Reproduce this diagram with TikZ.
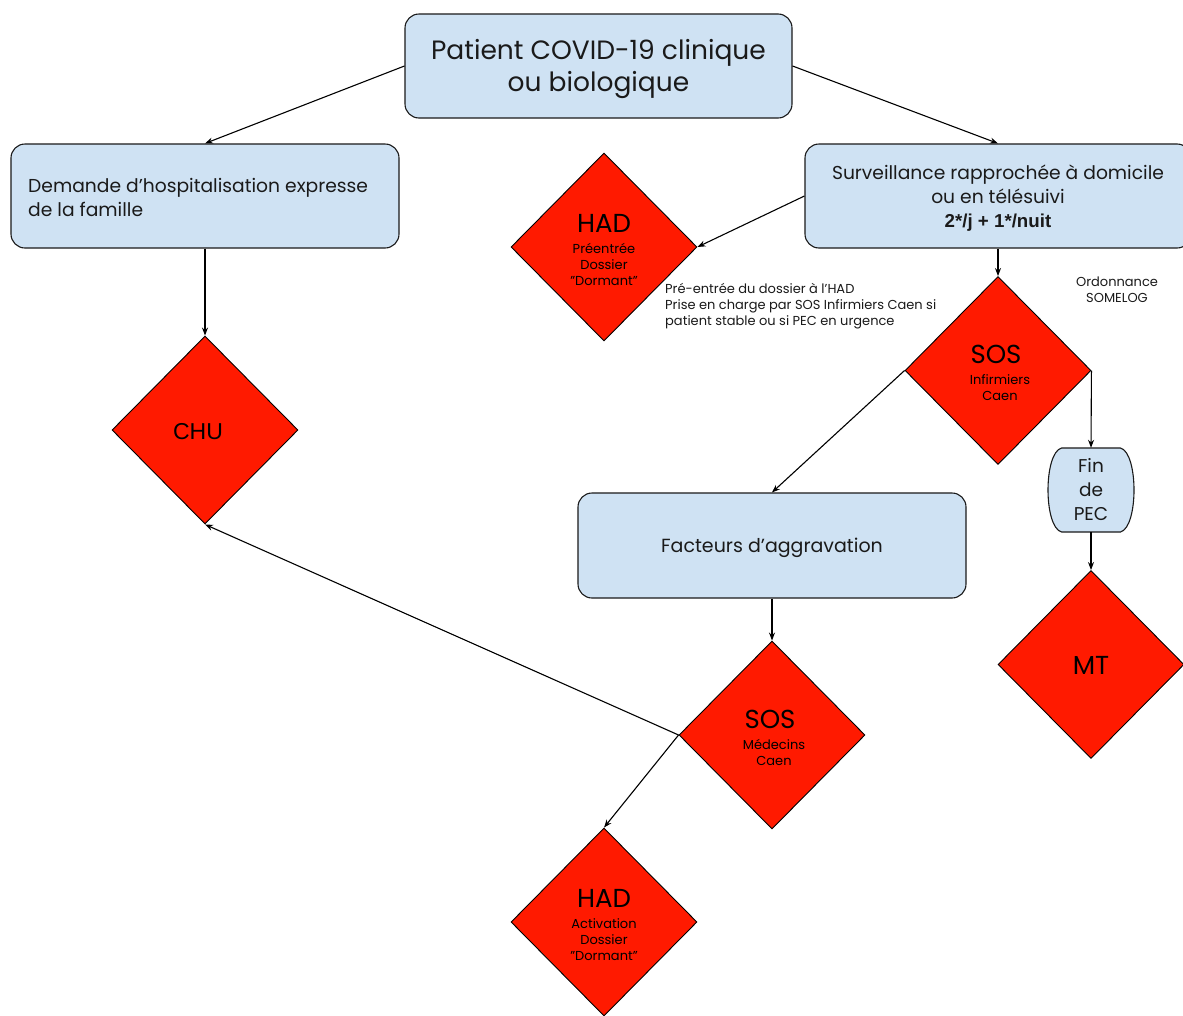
\documentclass[tikz,border=0pt]{standalone}
\usepackage{fontspec}
\setmainfont{Poppins}
\newfontfamily\arialf{Liberation Sans}
\usetikzlibrary{shapes.geometric,arrows.meta}
\definecolor{boxblue}{HTML}{CFE2F3}
\definecolor{dred}{HTML}{FF1A00}
\definecolor{ink}{HTML}{1A1A1A}
\tikzset{
  box/.style={draw=ink,line width=1.1pt,fill=boxblue,rounded corners=14pt,inner sep=0pt,text=ink},
  dia/.style={diamond,draw=black,line width=0.9pt,fill=dred,inner sep=0pt,aspect=1,minimum width=186pt,minimum height=188pt,align=center,text=black,font=\fontsize{13}{16}\selectfont},
  conn/.style={line width=1.1pt,-{Stealth[length=8pt,width=6pt]}},
  note/.style={align=left,inner sep=0pt,text=ink,font=\fontsize{13}{16}\selectfont}
}
\begin{document}
\begin{tikzpicture}[x=1pt,y=-1pt]
\useasboundingbox (0,0) rectangle (1183,1015);
\fill[white] (0,0) rectangle (1183,1015);
\clip (0,0) rectangle (1183,1015);
% boxes
\node[box,minimum width=387pt,minimum height=104pt] (pat) at (598.5,66) {};
\node[align=center,inner sep=0pt,text=ink,font=\fontsize{26.5}{32}\selectfont] (patt) at (598.5,69) {Patient COVID-19 clinique\\ou biologique};
\node[box,minimum width=388pt,minimum height=104pt] (dem) at (205,196) {};
\node[note,anchor=north west,font=\fontsize{18.7}{24}\selectfont] (demt) at (28,178) {Demande d’hospitalisation expresse\\de la famille};
\node[box,minimum width=386pt,minimum height=104pt] (surv) at (998,196) {};
\node[align=center,inner sep=0pt,text=ink,font=\fontsize{18.7}{24}\selectfont] (survt) at (998,198) {Surveillance rapprochée à domicile\\ou en télésuivi\\{\arialf\bfseries 2*/j + 1*/nuit}};
\node[box,minimum width=388pt,minimum height=105pt,font=\fontsize{19}{24}\selectfont] (fac) at (772,545.5) {};
\node[inner sep=0pt,text=ink,font=\fontsize{19}{24}\selectfont] (fact) at (772,548) {Facteurs d’aggravation};
% Fin de PEC
\draw[draw=ink,line width=1.1pt,fill=boxblue] (1061.5,448) -- (1120.5,448) .. controls (1138.5,453) and (1138.5,527) .. (1120.5,532) -- (1061.5,532) .. controls (1043.5,527) and (1043.5,453) .. (1061.5,448) -- cycle;
\node[inner sep=0pt,minimum width=85pt,minimum height=84pt,align=center,text=ink,font=\fontsize{18.5}{24}\selectfont] (fin) at (1091,490) {Fin\\de\\PEC};
% diamonds
\node[dia] (had1) at (604,247) {};
\node[align=center,inner sep=0pt,font=\fontsize{13}{16}\selectfont] (had1t) at (604,250) {{\fontsize{26}{26}\selectfont HAD}\\[5pt]Préentrée\\Dossier\\"Dormant"};
\node[dia] (sosi) at (998,370.5) {};
\node[align=center,inner sep=0pt,font=\fontsize{13}{16}\selectfont] (sosit) at (996,373) {{\fontsize{26}{26}\selectfont SOS}\\[5pt]\hspace*{8pt}Infirmiers\\\hspace*{8pt}Caen};
\node[dia] (chu) at (205,430) {};
\node[inner sep=0pt,font=\arialf\fontsize{23}{23}\selectfont] (chut) at (198,432) {CHU};
\node[dia] (mt) at (1091,664.5) {};
\node[inner sep=0pt,font=\fontsize{26}{26}\selectfont] (mtt) at (1091,665) {MT};
\node[dia] (sosm) at (772,735) {};
\node[align=center,inner sep=0pt,font=\fontsize{13}{16}\selectfont] (sosmt) at (770,738) {{\fontsize{26}{26}\selectfont SOS}\\[5pt]\hspace*{8pt}Médecins\\\hspace*{8pt}Caen};
\node[dia] (had2) at (604,922) {};
\node[align=center,inner sep=0pt,font=\fontsize{13}{16}\selectfont] (had2t) at (604,925) {{\fontsize{26}{26}\selectfont HAD}\\[5pt]Activation\\Dossier\\"Dormant"};
% notes
\node[note,anchor=north west] (n1) at (665,283) {Pré-entrée du dossier à l’HAD\\Prise en charge par SOS Infirmiers Caen si\\patient stable ou si PEC en urgence};
\node[note,align=center] (n2) at (1117,290) {Ordonnance\\SOMELOG};
% connectors
\draw[conn] (pat.west) -- (dem.north);
\draw[conn] (pat.east) -- (surv.north);
\draw[conn] (surv.west) -- (had1.east);
\draw[conn] (surv.south) -- (sosi.north);
\draw[conn] (sosi.west) -- (fac.north);
\draw[conn] (sosi.east) -- (fin.north);
\draw[conn] (fin.south) -- (mt.north);
\draw[conn] (dem.south) -- (chu.north);
\draw[conn] (fac.south) -- (sosm.north);
\draw[conn] (sosm.west) -- (chu.south);
\draw[conn] (sosm.west) -- (had2.north);
\end{tikzpicture}
\end{document}
